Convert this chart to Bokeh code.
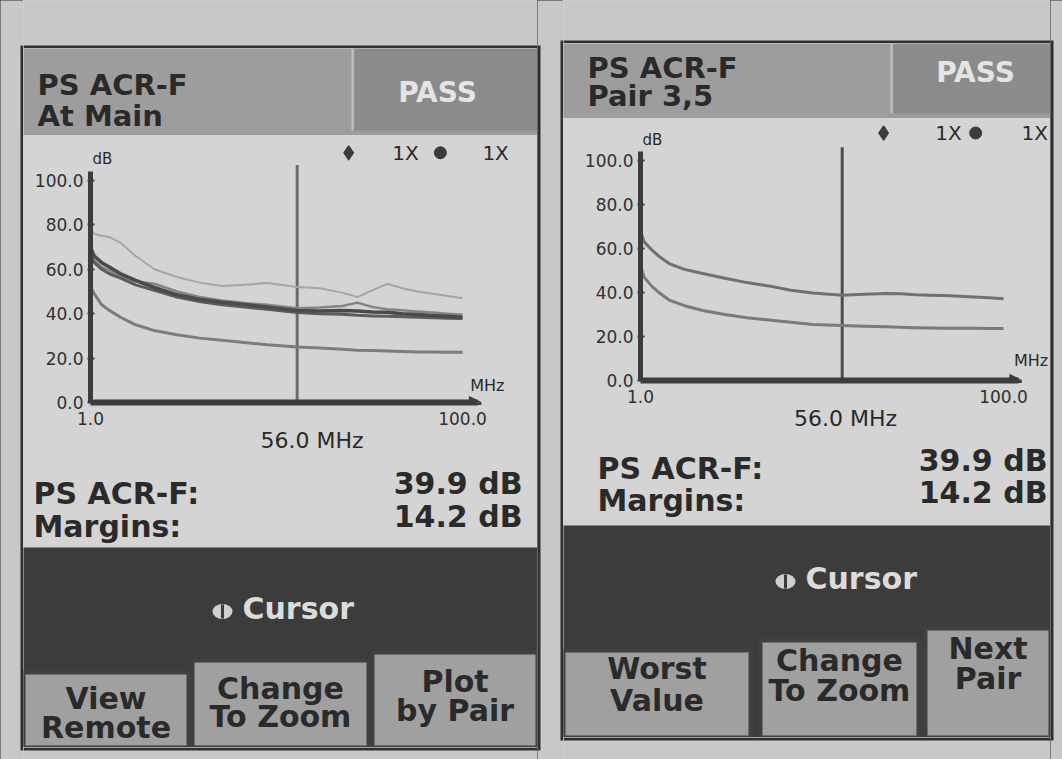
from bokeh.plotting import figure
from bokeh.layouts import row, column
from bokeh.models import (Range1d, Label, Arrow, NormalHead, FixedTicker, PrintfTickFormatter,
                          LinearAxis)
from bokeh.core.properties import value
from bokeh.embed import file_html
from bokeh.resources import INLINE

# ---------------- data ----------------
FREQ_MHZ = [1, 2, 4, 6, 9, 13, 18, 24, 30, 36, 42, 48, 56, 62, 68, 72, 76, 80, 84, 88, 92, 96, 100]

MAIN_LIGHT = [78, 76, 75, 74.5, 72, 66, 60, 56.5, 54, 52.5, 53, 53.8, 52, 51.5, 49.5, 47.5, 50.5, 53.5, 51.5, 50, 49, 48, 47]
MAIN_MID = [68, 64, 61, 59.5, 57, 54.5, 53.5, 50, 47.5, 46, 44.8, 44, 42.5, 42.8, 43.5, 45, 43, 42, 41.5, 41, 40.5, 40, 39.5]
MAIN_DARK = [70, 66, 63, 61, 58, 55, 51.8, 48.5, 46.5, 45.2, 44.2, 43, 41.4, 41.2, 41.4, 41.2, 40.8, 40.6, 40, 39.6, 39.2, 38.8, 38.4]
MAIN_DARK2 = [66, 63, 60, 58, 56, 53, 50.5, 47.5, 45.5, 44, 43, 42, 40.5, 40, 39.8, 39.3, 39, 38.8, 38.6, 38.4, 38.2, 38, 37.8]
MAIN_LOW = [52, 49, 44, 41.5, 38.4, 35, 32.4, 30.5, 29, 28, 27, 26, 25, 24.5, 24, 23.5, 23.4, 23.2, 23, 22.8, 22.7, 22.6, 22.6]

PAIR35_UPPER = [68, 63, 59.5, 56.5, 53, 50.5, 48.6, 46.5, 44.5, 43, 41, 39.8, 38.8, 39.2, 39.5, 39.4, 39, 38.8, 38.6, 38.3, 38, 37.6, 37.2]
PAIR35_LOWER = [52, 47, 43, 40, 36.4, 34, 31.8, 30, 28.5, 27.5, 26.5, 25.5, 25, 24.7, 24.4, 24.2, 24, 23.9, 23.8, 23.7, 23.7, 23.6, 23.6]

Y_TICKS = [0, 20, 40, 60, 80, 100]
X_TICKS = [1, 100]
CURSOR_MHZ = 56.0
CURSOR_LABEL = "56.0 MHz"
READ_LABELS = ["PS ACR-F:", "Margins:"]
READ_VALUES = ["39.9 dB", "14.2 dB"]
LEFT_TITLE = ["PS ACR-F", "At Main"]
RIGHT_TITLE = ["PS ACR-F", "Pair 3,5"]
STATUS = "PASS"
SCALE_TEXT = ["1X", "1X"]
LEFT_BUTTONS = [["View", "Remote"], ["Change", "To Zoom"], ["Plot", "by Pair"]]
RIGHT_BUTTONS = [["Worst", "Value"], ["Change", "To Zoom"], ["Next", "Pair"]]

# ---------------- style ----------------
FONT = "DejaVu Sans"
PAPER = "#c8c8c8"
BORDER = "#2f2f2f"
HEAD = "#9d9d9d"
HEAD_PASS = "#8b8b8b"
SCREEN = "#d4d4d4"
DARK = "#3c3c3c"
BUTTON = "#a0a0a0"
TXT = "#2a2a2a"
AX = "#3c3c3c"
H = 759


def deco(w, h, bg):
    f = figure(width=w, height=h, x_range=Range1d(0, w), y_range=Range1d(h, 0),
               min_border=0, toolbar_location=None, output_backend="svg",
               x_axis_location=None, y_axis_location=None, frame_align=False,
               background_fill_color=bg, border_fill_color=bg, outline_line_color=None)
    f.grid.visible = False
    return f


def strip(w, borders):
    """Paper strip that also carries the vertical panel borders: (x, top, bottom)."""
    f = deco(w, H, PAPER)
    for x, t, b in borders:
        f.quad(left=[x], right=[x + 3], top=[t], bottom=[b], fill_color=BORDER, line_color=None)
    return f


def hgap(w, h, border_at):
    f = deco(w, h, PAPER)
    f.quad(left=[0], right=[w], top=[border_at], bottom=[border_at + 3], fill_color=BORDER, line_color=None)
    return f


def put_text(f, x, y, txt, size, color, align="left", bold=True):
    f.text(x=[x], y=[y], text=[txt], text_font=value(FONT), text_font_size=f"{size}px",
           text_font_style="bold" if bold else "normal", text_color=color,
           text_align=align, text_baseline="middle")


def make_header(w, h, title, pass_left, pass_bottom, tx, ty, pass_cx, pass_cy):
    f = deco(w, h, HEAD)
    f.quad(left=[pass_left], right=[w], top=[0], bottom=[pass_bottom], fill_color=HEAD_PASS, line_color=None)
    f.segment(x0=[pass_left - 2], y0=[0], x1=[pass_left - 2], y1=[pass_bottom], line_color="#c4c4c4", line_width=2)
    put_text(f, tx, ty[0], title[0], 29, TXT)
    put_text(f, tx, ty[1], title[1], 29, TXT)
    put_text(f, pass_cx, pass_cy, STATUS, 28, "#e4e4e4", align="center")
    return f


def make_readout(w, h, lx, ly, rx, ry):
    f = deco(w, h, SCREEN)
    for i in range(2):
        put_text(f, lx, ly[i], READ_LABELS[i], 30, TXT)
        put_text(f, rx, ry[i], READ_VALUES[i], 30, TXT, align="right")
    return f


def make_footer(w, h, cursor_x, cursor_y, buttons, boxes, text_y):
    f = deco(w, h, DARK)
    f.ellipse(x=[cursor_x - 20], y=[cursor_y + 3], width=20, height=15, fill_color="#cfcfcf", line_color=None)
    f.segment(x0=[cursor_x - 20], y0=[cursor_y - 4], x1=[cursor_x - 20], y1=[cursor_y + 10], line_color=DARK, line_width=3)
    put_text(f, cursor_x, cursor_y, "Cursor", 30, "#dcdcdc")
    for (l, r, t), lines, ys in zip(boxes, buttons, text_y):
        f.quad(left=[l], right=[r], top=[t], bottom=[h], fill_color=BUTTON, line_color="#404040", line_width=4)
        cx = (l + r) / 2
        put_text(f, cx, ys[0], lines[0], 30, TXT, align="center")
        put_text(f, cx, ys[1], lines[1], 30, TXT, align="center")
    return f


def make_chart(w, h, mbl, mbr, mbt, frame_h, px_mhz, px_db, curves, legend, mhz_pos,
               db_offset, cursor_off_px, cursor_top, cursor_color):
    frame_w = w - mbl - mbr
    x_end = 1 + frame_w / px_mhz
    y_end = frame_h / px_db
    p = figure(width=w, height=h, x_range=Range1d(1, x_end), y_range=Range1d(0, y_end),
               min_border_left=mbl, min_border_right=mbr, min_border_top=mbt,
               min_border_bottom=h - mbt - frame_h, toolbar_location=None, output_backend="svg",
               frame_align=False,
               background_fill_color=SCREEN, border_fill_color=SCREEN, outline_line_color=None)
    p.grid.visible = False
    for ax in (p.xaxis, p.yaxis):
        ax.axis_line_color = AX
        ax.major_label_text_font = FONT
        ax.major_label_text_font_size = "17px"
        ax.major_label_text_color = "#303030"
        ax.minor_tick_line_color = None
        ax.formatter = PrintfTickFormatter(format="%.1f")
        ax.major_tick_line_color = AX
        ax.major_tick_line_width = 2
    p.xaxis.ticker = FixedTicker(ticks=X_TICKS)
    p.yaxis.ticker = FixedTicker(ticks=Y_TICKS)
    p.xaxis.bounds = (1, 104)
    p.yaxis.bounds = (0, 104)
    p.xaxis.axis_line_width = 6
    p.yaxis.axis_line_width = 5
    p.xaxis.major_tick_in = 0
    p.xaxis.major_tick_out = 0
    p.xaxis.major_label_standoff = 9
    p.yaxis.major_tick_in = 4
    p.yaxis.major_tick_out = 3
    p.yaxis.major_label_standoff = 4

    # cursor read-out under the axis: an extra axis whose label is centred on the cursor
    c = CURSOR_MHZ + cursor_off_px / px_mhz
    cax = LinearAxis(bounds=(c - 30, c + 30), ticker=FixedTicker(ticks=[]),
                     axis_line_color=None, major_tick_line_color=None, minor_tick_line_color=None,
                     major_label_text_font_size="0px", axis_label=CURSOR_LABEL,
                     axis_label_text_font=FONT, axis_label_text_font_size="22px",
                     axis_label_text_font_style="normal", axis_label_text_color=TXT,
                     axis_label_standoff=0, major_label_standoff=0)
    p.add_layout(cax, "below")

    p.add_layout(Arrow(end=NormalHead(size=12, fill_color=AX, line_color=AX), x_start=100, y_start=0,
                       x_end=105, y_end=0, line_color=AX, line_width=5))

    p.segment(x0=[CURSOR_MHZ], y0=[0], x1=[CURSOR_MHZ], y1=[cursor_top], line_color=cursor_color, line_width=3)
    for ys, color, lw in curves:
        p.line(FREQ_MHZ, ys, line_color=color, line_width=lw, line_join="round")

    lx = legend["x"]
    ly = legend["y"]
    p.scatter(x=[lx[0]], y=[ly], marker="diamond", size=15, color=AX)
    p.scatter(x=[lx[2]], y=[ly], marker="circle", size=12, color=AX)
    for xi, t in zip((lx[1], lx[3]), SCALE_TEXT):
        p.add_layout(Label(x=xi, y=ly, text=t, text_font=FONT, text_font_size="20px", text_color=TXT,
                           text_align="center", text_baseline="middle"))
    p.add_layout(Label(x=mhz_pos[0], y=mhz_pos[1], text="MHz", text_font=FONT, text_font_size="16px",
                       text_color=TXT, text_align="center", text_baseline="middle"))
    p.add_layout(Label(x=1, y=109.5, x_offset=db_offset, text="dB", text_font=FONT, text_font_size="15px",
                       text_color=TXT, text_align="left", text_baseline="middle"))
    return p


# ---------------- left panel (x 23..537) ----------------
LW = 514
left_header = make_header(LW, 87, LEFT_TITLE, 331, 82, 14, (36, 67), 414, 44)
left_chart = make_chart(
    LW, 330, 67, 4, 10, 257, 3.758, 2.22,
    [(MAIN_LIGHT, "#a6a6a6", 2), (MAIN_MID, "#858585", 2.5), (MAIN_DARK2, "#5c5c5c", 3),
     (MAIN_DARK, "#4a4a4a", 3.5), (MAIN_LOW, "#7c7c7c", 3)],
    {"x": (69.7, 84.8, 94.1, 108.8), "y": 112.5}, (106.6, 7.5),
    2, 13, 107, "#6c6c6c")
left_readout = make_readout(LW, 82, 10, (28, 61), 499, (18, 51))
left_footer = make_footer(LW, 200, 219, 61, LEFT_BUTTONS,
                          [(0, 165, 125), (169, 345, 113), (349, 514, 105)],
                          [(151, 180), (141, 169), (134, 163)])
left_panel = column(hgap(LW, 48, 45), left_header, left_chart, left_readout, left_footer, hgap(LW, 12, 0),
                    styles={"background-color": SCREEN})

# ---------------- right panel (x 563..1050) ----------------
RW = 487
right_header = make_header(RW, 75, RIGHT_TITLE, 330, 70, 24, (24, 52), 412, 29)
right_chart = make_chart(
    RW, 325, 77, 0, 7, 255, 3.667, 2.2,
    [(PAIR35_UPPER, "#707070", 3), (PAIR35_LOWER, "#7a7a7a", 3)],
    {"x": (67.3, 85.0, 92.4, 108.5), "y": 112.5}, (107.5, 9),
    2, 22, 106, "#4c4c4c")
right_readout = make_readout(RW, 82, 34, (25, 57), 484, (17, 49))
right_footer = make_footer(RW, 212, 242, 53, RIGHT_BUTTONS,
                           [(0, 187, 125), (197, 355, 115), (362, 487, 103)],
                           [(143, 175), (135, 165), (123, 153)])
right_panel = column(hgap(RW, 43, 40), right_header, right_chart, right_readout, right_footer, hgap(RW, 22, 0),
                     styles={"background-color": SCREEN})

root = row(strip(23, [(20, 45, 750)]), left_panel,
           strip(26, [(0, 45, 750), (23, 40, 740)]), right_panel,
           strip(12, [(0, 40, 740)]),
           styles={"background-color": BORDER})

open("out.html", "w").write(file_html(root, INLINE))
